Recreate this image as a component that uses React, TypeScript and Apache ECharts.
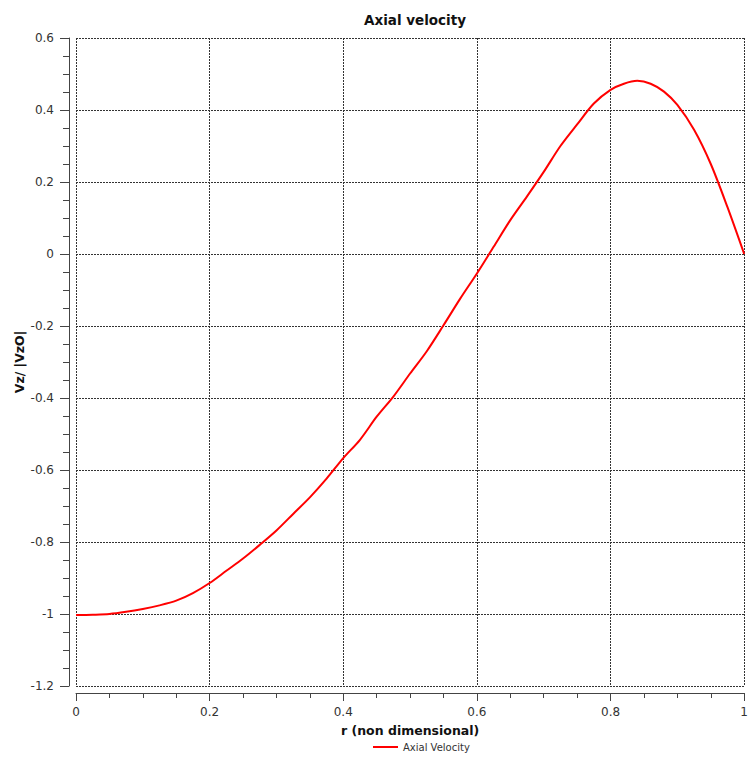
import React, { useEffect, useRef } from "react";
import * as echarts from "echarts";

const rValues = [0, 0.025, 0.05, 0.075, 0.1, 0.125, 0.15, 0.175, 0.2, 0.225, 0.25, 0.275, 0.3, 0.325, 0.35, 0.375, 0.4, 0.425, 0.45, 0.475, 0.5, 0.525, 0.55, 0.575, 0.6, 0.625, 0.65, 0.675, 0.7, 0.725, 0.75, 0.775, 0.8, 0.82, 0.84, 0.86, 0.88, 0.9, 0.925, 0.95, 0.975, 1.0];
const vzValues = [-1.003, -1.002, -1.0, -0.994, -0.986, -0.976, -0.963, -0.942, -0.914, -0.88, -0.846, -0.808, -0.768, -0.722, -0.676, -0.624, -0.567, -0.516, -0.452, -0.396, -0.332, -0.27, -0.198, -0.124, -0.054, 0.02, 0.094, 0.16, 0.228, 0.3, 0.36, 0.418, 0.456, 0.473, 0.481, 0.473, 0.451, 0.414, 0.345, 0.25, 0.13, 0];

const seriesName = "Axial Velocity";
const titleText = "Axial velocity";
const xName = "r (non dimensional)";
const yName = "Vz/ |VzO|";

export default function App() {
  const ref = useRef<HTMLDivElement>(null);
  useEffect(() => {
    if (!ref.current) return;
    const chart = echarts.init(ref.current, undefined, { renderer: "svg" });
    const font = "DejaVu Sans";
    const gridLine = { show: true, lineStyle: { color: "#333", width: 1, type: [2, 1] as any } };
    chart.setOption({
      animation: false,
      backgroundColor: "#fff",
      title: {
        text: titleText,
        left: 410,
        textAlign: "center",
        top: 8,
        textStyle: { fontFamily: font, fontSize: 13.5, fontWeight: "bold", color: "#111" },
      },
      legend: {
        bottom: 0,
        left: 368,
        icon: "rect",
        itemWidth: 25,
        itemHeight: 2,
        textStyle: { fontFamily: font, fontSize: 10, color: "#333" },
        data: [seriesName],
      },
      grid: { left: 76, right: 6, top: 38, bottom: 71, containLabel: false },
      xAxis: {
        type: "value",
        min: 0,
        max: 1,
        interval: 0.2,
        offset: 7,
        name: xName,
        nameLocation: "middle",
        nameGap: 31,
        nameMoveOverlap: false,
        nameTextStyle: { fontFamily: font, fontSize: 12.5, fontWeight: "bold", color: "#111" },
        axisLine: { show: true, onZero: false, lineStyle: { color: "#444" } },
        axisTick: { show: true, length: 8, lineStyle: { color: "#444" } },
        minorTick: { show: true, splitNumber: 4, length: 5, lineStyle: { color: "#444" } },
        axisLabel: { fontFamily: font, fontSize: 12, color: "#333", margin: 13 },
        splitLine: gridLine,
      },
      yAxis: {
        type: "value",
        min: -1.2,
        max: 0.6,
        interval: 0.2,
        offset: 7,
        name: yName,
        nameLocation: "middle",
        nameGap: 43,
        nameMoveOverlap: false,
        nameTextStyle: { fontFamily: font, fontSize: 12.5, fontWeight: "bold", color: "#111" },
        axisLine: { show: true, onZero: false, lineStyle: { color: "#444" } },
        axisTick: { show: true, length: 9, lineStyle: { color: "#444" } },
        minorTick: { show: true, splitNumber: 4, length: 6, lineStyle: { color: "#444" } },
        axisLabel: { fontFamily: font, fontSize: 12, color: "#333", margin: 15 },
        splitLine: gridLine,
      },
      series: [
        {
          name: seriesName,
          type: "line",
          data: rValues.map((r, i) => [r, vzValues[i]]),
          showSymbol: false,
          smooth: 0.3,
          lineStyle: { color: "#ff0000", width: 2 },
          itemStyle: { color: "#ff0000" },
        },
      ],
    });
    return () => chart.dispose();
  }, []);
  return (
    <div
      ref={ref}
      style={{ position: "fixed", left: 0, top: 0, width: 751, height: 757 }}
    />
  );
}
